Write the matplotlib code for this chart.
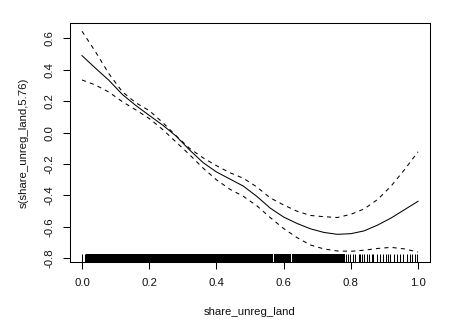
import matplotlib
matplotlib.use("Agg")
import matplotlib.pyplot as plt

# ---- data ----
x_grid = [0.00, 0.04, 0.08, 0.12, 0.16, 0.20, 0.24, 0.28, 0.32, 0.36, 0.40, 0.44, 0.48,
          0.52, 0.56, 0.60, 0.64, 0.68, 0.72, 0.76, 0.80, 0.84, 0.88, 0.92, 0.96, 1.00]
fit = [0.490, 0.410, 0.333, 0.243, 0.173, 0.110, 0.048, -0.022, -0.110, -0.190, -0.250, -0.295, -0.340,
       -0.405, -0.480, -0.537, -0.578, -0.612, -0.635, -0.647, -0.643, -0.625, -0.588, -0.543, -0.490, -0.437]
upper = [0.645, 0.515, 0.375, 0.260, 0.190, 0.140, 0.065, -0.020, -0.100, -0.160, -0.210, -0.255, -0.290,
         -0.345, -0.415, -0.460, -0.500, -0.527, -0.535, -0.540, -0.520, -0.485, -0.425, -0.340, -0.235, -0.122]
lower = [0.335, 0.303, 0.258, 0.197, 0.145, 0.090, 0.020, -0.060, -0.140, -0.225, -0.300, -0.360, -0.405,
         -0.465, -0.540, -0.610, -0.668, -0.715, -0.740, -0.753, -0.755, -0.748, -0.737, -0.730, -0.740, -0.760]

# rug: densely packed observations (drawn as thick ticks)
rug_dense = [0.020, 0.030, 0.040, 0.050, 0.060, 0.070, 0.080, 0.090, 0.100, 0.110, 0.120, 0.130,
             0.140, 0.150, 0.160, 0.170, 0.180, 0.190, 0.200, 0.210, 0.220, 0.230, 0.240, 0.250,
             0.260, 0.270, 0.280, 0.290, 0.300, 0.310, 0.320, 0.330, 0.340, 0.350, 0.360, 0.370,
             0.380, 0.390, 0.400, 0.410, 0.420, 0.430, 0.440, 0.450, 0.460, 0.470, 0.480, 0.490,
             0.500, 0.510, 0.520, 0.530, 0.540, 0.550, 0.560,
             0.578, 0.587, 0.597, 0.607, 0.615,
             0.631, 0.640, 0.647,
             0.662, 0.670, 0.676,
             0.688,
             0.701, 0.709, 0.717,
             0.729,
             0.741, 0.749, 0.758, 0.767, 0.776]
# rug: isolated observations
rug_sparse = [0.000, 0.008, 0.013,
              0.786, 0.793, 0.798, 0.808, 0.813, 0.823, 0.827, 0.834, 0.840, 0.847, 0.855, 0.862,
              0.867, 0.877, 0.887, 0.897, 0.905, 0.912, 0.917, 0.929, 0.937, 0.946, 0.956, 0.966,
              0.976, 0.981, 0.991, 0.998]

x_ticks = [0.0, 0.2, 0.4, 0.6, 0.8, 1.0]
x_ticklabels = ["0.0", "0.2", "0.4", "0.6", "0.8", "1.0"]
y_ticks = [-0.8, -0.6, -0.4, -0.2, 0.0, 0.2, 0.4, 0.6]
y_ticklabels = ["-0.8", "-0.6", "-0.4", "-0.2", "0.0", "0.2", "0.4", "0.6"]
x_label = "share_unreg_land"
y_label = "s(share_unreg_land,5.76)"

# ---- figure ----
plt.rcParams['font.family'] = ['Liberation Sans', 'DejaVu Sans']
W, H = 472, 334
fig = plt.figure(figsize=(W / 100, H / 100), dpi=100)
left, right, top, bottom = 70, 430, 23.3, 262.3
ax = fig.add_axes([left / W, (H - bottom) / H, (right - left) / W, (bottom - top) / H])

lw = 0.75
ax.plot(x_grid, fit, color='black', lw=lw)
ax.plot(x_grid, upper, color='black', lw=lw, linestyle=(0, (4, 4)))
ax.plot(x_grid, lower, color='black', lw=lw, linestyle=(0, (4, 4)))

trans = ax.get_xaxis_transform()
ax.vlines(rug_dense, 0, 0.033, transform=trans, color='black', lw=2.7,
          snap=False, antialiased=False)
ax.vlines(rug_sparse, 0, 0.033, transform=trans, color='black', lw=0.75)

ax.set_xlim(-0.0357, 1.0357)
ax.set_ylim(-0.825, 0.6955)

ax.set_xticks(x_ticks)
ax.set_xticklabels(x_ticklabels)
ax.set_yticks(y_ticks)
ax.set_yticklabels(y_ticklabels, rotation=90, va='center')

fs = 8.2
ax.tick_params(axis='both', direction='out', length=5, width=0.75, labelsize=fs,
               color='black', labelcolor='#111111')
ax.tick_params(axis='x', pad=6)
ax.tick_params(axis='y', pad=6.5)

for s in ax.spines.values():
    s.set_linewidth(0.75)
    s.set_color('black')

ax.set_xlabel(x_label, fontsize=fs, color='#111111')
ax.set_ylabel(y_label, fontsize=fs, color='#111111')
ax.xaxis.label.set_va('center')
ax.yaxis.label.set_va('center')
ax.xaxis.set_label_coords(0.5, (bottom - 312.0) / (bottom - top))
ax.yaxis.set_label_coords((23.3 - left) / (right - left), 0.5)

fig.savefig("out.png", dpi=100)
